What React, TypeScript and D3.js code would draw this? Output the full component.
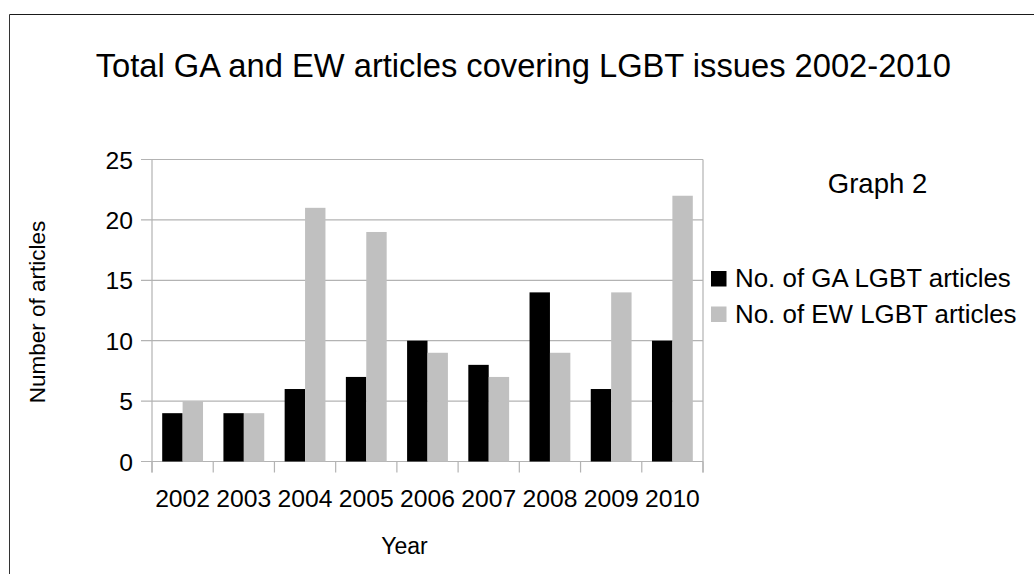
import React from "react";
import * as d3 from "d3";

const years = ["2002", "2003", "2004", "2005", "2006", "2007", "2008", "2009", "2010"];
const gaValues = [4, 4, 6, 7, 10, 8, 14, 6, 10];
const ewValues = [5, 4, 21, 19, 9, 7, 9, 14, 22];
const yTicks = [0, 5, 10, 15, 20, 25];
const seriesNames = ["No. of GA LGBT articles", "No. of EW LGBT articles"];
const seriesColors = ["#000000", "#c0c0c0"];

const W = 1034;
const H = 574;
const FONT = "'Liberation Sans', Arial, Helvetica, sans-serif";
const GRID = "#b3b3b3";

export default function App() {
  const plot = { left: 152, right: 703, top: 159.5, bottom: 461.5 };
  const x = d3.scaleBand<string>().domain(years).range([plot.left, plot.right]).paddingInner(0).paddingOuter(0);
  const y = d3.scaleLinear().domain([0, 25]).range([plot.bottom, plot.top]);
  const bw = x.bandwidth();
  const inner = d3.scaleBand<number>().domain([0, 1]).range([bw / 6, (bw * 5) / 6]).padding(0);
  const series = [gaValues, ewValues];

  const boundaries = years.map((yr) => x(yr)!).concat([plot.right]);

  return (
    <svg
      width={W}
      height={H}
      style={{ position: "absolute", left: 0, top: 0, background: "#fff" }}
      fontFamily={FONT}
    >
      <rect x={0} y={0} width={W} height={H} fill="#fff" />
      {/* outer frame (top and left only visible) */}
      <line x1={9.5} y1={14.5} x2={W} y2={14.5} stroke="#1a1a1a" strokeWidth={1} />
      <line x1={9.5} y1={14.5} x2={9.5} y2={H} stroke="#333" strokeWidth={1} />

      <text x={523.3} y={76.7} fontSize={32.7} textAnchor="middle" fill="#000">
        Total GA and EW articles covering LGBT issues 2002-2010
      </text>

      {/* gridlines and y ticks */}
      {yTicks.map((t) => (
        <g key={t}>
          <line x1={plot.left - 11} x2={plot.right} y1={y(t)} y2={y(t)} stroke={GRID} strokeWidth={1.2} />
          <text x={133} y={y(t) + 9} fontSize={24.7} textAnchor="end" fill="#000">
            {t}
          </text>
        </g>
      ))}
      {/* left axis and right frame */}
      <line x1={plot.left} x2={plot.left} y1={plot.top} y2={plot.bottom + 11} stroke={GRID} strokeWidth={1.2} />
      <line x1={plot.right} x2={plot.right} y1={plot.top} y2={plot.bottom + 11} stroke={GRID} strokeWidth={1.2} />
      {boundaries.map((b, i) => (
        <line key={i} x1={b} x2={b} y1={plot.bottom} y2={plot.bottom + 11} stroke={GRID} strokeWidth={1.2} />
      ))}

      {/* bars */}
      {series.map((vals, si) =>
        vals.map((v, i) => (
          <rect
            key={`${si}-${i}`}
            x={x(years[i])! + inner(si)!}
            y={y(v)}
            width={inner.bandwidth()}
            height={y(0) - y(v)}
            fill={seriesColors[si]}
          />
        ))
      )}

      {/* x labels */}
      {years.map((yr) => (
        <text key={yr} x={x(yr)! + bw / 2} y={506.5} fontSize={24.7} textAnchor="middle" fill="#000">
          {yr}
        </text>
      ))}

      <text x={404.5} y={554.3} fontSize={23} textAnchor="middle" fill="#000">
        Year
      </text>
      <text
        transform={`translate(45,312) rotate(-90)`}
        fontSize={22.5}
        textAnchor="middle"
        fill="#000"
      >
        Number of articles
      </text>

      <text x={877.5} y={192.7} fontSize={27.5} textAnchor="middle" fill="#000">
        Graph 2
      </text>

      {seriesNames.map((name, i) => (
        <g key={name}>
          <rect x={711} y={271 + i * 35.5} width={15.5} height={15.5} fill={seriesColors[i]} />
          <text x={735} y={287 + i * 35.5} fontSize={25.9} fill="#000">
            {name}
          </text>
        </g>
      ))}
    </svg>
  );
}
